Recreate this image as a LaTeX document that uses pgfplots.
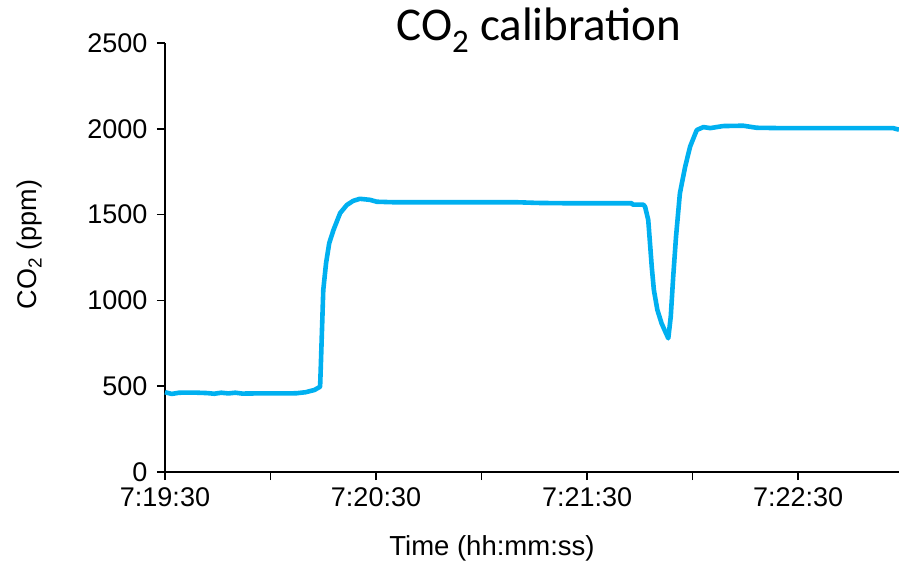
\documentclass[border=0pt]{standalone}
\usepackage{pgfplots}
\pgfplotsset{compat=1.18}
\usepackage{fontspec}
\setmainfont{Liberation Sans}
\newfontfamily\titlefont{Carlito}
\definecolor{excelblue}{RGB}{0,176,240}
\begin{document}
\begin{tikzpicture}[x=1pt,y=1pt]
\useasboundingbox (-165,-91) rectangle (734,472);
\begin{axis}[
  at={(0,0)}, anchor=south west,
  scale only axis, width=734pt, height=429pt,
  xmin=0, xmax=208.7, ymin=0, ymax=2500,
  axis x line=bottom, axis y line=left,
  axis line style={-, line width=1.9pt, black},
  tick style={line width=1.5pt, black},
  tick align=outside, major tick length=8pt,
  xtick={0,30,60,90,120,150,180},
  xticklabels={7:19:30,,7:20:30,,7:21:30,,7:22:30},
  ytick={0,500,1000,1500,2000,2500},
  /pgf/number format/assume math mode=true,
  /pgf/number format/1000 sep={},
  tick label style={font=\fontsize{27}{31}\selectfont},
  xticklabel style={yshift=-4pt},
  yticklabel style={xshift=-6pt},
  xlabel={Time (hh:mm:ss)},
  xlabel style={font=\fontsize{27.5}{31}\selectfont, at={(axis description cs:0.4455,0)}, anchor=base, yshift=-83pt},
  ylabel={CO\textsubscript{2} (ppm)},
  ylabel style={font=\fontsize{27}{31}\selectfont, at={(axis description cs:-0.184,0.53)}, anchor=center},
  title={\titlefont CO\textsubscript{2} calibration},
  title style={font=\fontsize{47}{52}\selectfont, at={(axis description cs:0.5095,1)}, anchor=base, yshift=-3pt},
  clip=false,
]
\addplot[excelblue, line width=4.6pt, line join=round] coordinates {
(0,465) (1.9,455) (4,462) (8,463) (12,460) (14,456) (16,462) (18,458) (20,462) (22,457) (26,458) (30,458) (35,458) (37.4,459) (40,465) (42.5,478) (44.1,497)
(44.3,614) (45.0,1060) (45.8,1218) (46.7,1334) (47.9,1410) (49.8,1509) (51.7,1556) (53.5,1580) (55.4,1592) (58.3,1586) (60.2,1575)
(65,1572) (80,1572) (100,1572) (106,1568) (115,1566) (125,1566) (132.7,1566) (133,1558) (136,1558)
(136.5,1546) (137.4,1469) (137.9,1333) (138.4,1196) (139.0,1061) (140.0,944) (141.2,866) (143.1,779)
(143.8,905) (144.5,1138) (145.3,1371) (146.4,1624) (147.9,1779) (149.3,1896) (151.2,1993) (153.1,2010) (155.0,2004) (158.7,2016) (164.4,2018) (168.2,2006)
(175,2004) (190,2004) (200,2004) (207,2004) (208.7,1995)
};
\end{axis}
\end{tikzpicture}
\end{document}
